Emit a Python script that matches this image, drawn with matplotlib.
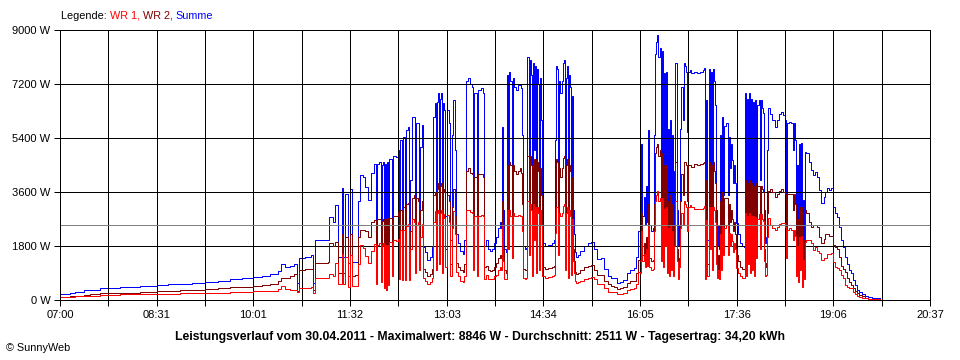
import matplotlib.pyplot as plt
import numpy as np

minuten = [0, 5, 9, 14, 23, 28, 38, 47, 56, 66, 75, 85, 91, 101, 113, 124, 136, 148, 160, 171,
           181, 190, 197, 205, 208, 211, 216, 220, 223, 224, 230, 236, 238, 239, 246, 252, 253, 256, 258, 261,
           265, 266, 268, 270, 272, 274, 277, 280, 282, 285, 286, 289, 292, 295, 297, 298, 300, 301, 302, 303,
           304, 305, 306, 307, 308, 309, 311, 312, 313, 316, 317, 318, 319, 321, 322, 324, 325, 327, 328, 329,
           331, 332, 333, 334, 336, 337, 338, 340, 341, 343, 345, 347, 349, 350, 352, 353, 354, 355, 356, 357,
           358, 359, 360, 361, 362, 363, 365, 366, 368, 369, 371, 372, 374, 376, 378, 379, 381, 383, 385, 387,
           388, 389, 391, 392, 393, 395, 397, 398, 400, 402, 404, 406, 408, 409, 411, 413, 414, 415, 416, 417,
           419, 420, 421, 422, 423, 424, 425, 426, 428, 430, 432, 433, 434, 435, 437, 438, 439, 440, 441, 442,
           443, 444, 445, 446, 447, 448, 449, 450, 451, 452, 453, 455, 458, 462, 464, 465, 466, 467, 468, 469,
           470, 471, 472, 473, 474, 475, 476, 477, 478, 479, 480, 481, 482, 483, 484, 485, 486, 488, 492, 496,
           499, 501, 504, 508, 511, 515, 517, 520, 523, 526, 529, 532, 535, 539, 541, 543, 545, 546, 547, 548,
           549, 550, 551, 552, 553, 555, 557, 558, 559, 560, 561, 562, 563, 564, 565, 566, 567, 568, 569, 570,
           571, 572, 573, 574, 575, 576, 577, 578, 579, 580, 581, 582, 583, 585, 586, 587, 588, 589, 590, 592,
           593, 595, 598, 601, 604, 605, 606, 607, 608, 609, 610, 611, 612, 613, 614, 615, 616, 617, 618, 619,
           620, 621, 622, 623, 624, 625, 627, 628, 629, 630, 631, 632, 633, 634, 635, 637, 639, 640, 642, 643,
           644, 645, 646, 647, 648, 649, 650, 651, 652, 653, 654, 655, 656, 657, 658, 659, 660, 661, 662, 663,
           664, 665, 667, 669, 671, 673, 675, 677, 679, 681, 682, 683, 685, 686, 688, 689, 690, 691, 692, 693,
           694, 695, 696, 697, 698, 699, 700, 701, 703, 705, 707, 709, 711, 713, 715, 717, 718, 720, 722, 724,
           726, 728, 730, 732, 733, 735, 737, 739, 741, 743, 745, 747, 748, 750, 753, 756, 759, 763, 766, 770]

summe = [190, 210, 230, 260, 320, 340, 390, 410, 425, 440, 455, 470, 490, 520, 550, 580, 610, 640, 690, 730,
         770, 810, 860, 980, 1200, 1110, 1150, 1200, 560, 1390, 1440, 1500, 560, 2000, 2000, 2000, 2780, 2600, 3170, 1450,
         3750, 1450, 3550, 1250, 3700, 1280, 1280, 3300, 4170, 4100, 3780, 3330, 4220, 4550, 1500, 4550, 4600, 1600, 4500, 4600,
         900, 4550, 700, 4600, 1200, 4700, 4700, 2000, 4800, 4780, 5000, 1700, 5330, 1780, 5440, 1780, 5670, 5780, 1780, 4000,
         6100, 6110, 2200, 5890, 5890, 2500, 5100, 5830, 1780, 1600, 1330, 1450, 1780, 6100, 6560, 2500, 6600, 6900, 3000, 6700,
         6900, 2200, 6560, 6330, 2800, 6330, 5890, 2000, 5500, 6670, 5000, 2200, 1900, 1650, 1550, 2000, 7300, 7390, 7200, 7100,
         2500, 6900, 6900, 2000, 7000, 7050, 6900, 1800, 2000, 1700, 1650, 1700, 1900, 2100, 2400, 2600, 2400, 5780, 3000, 1700,
         1600, 7500, 4000, 7600, 7300, 3200, 7400, 7100, 7000, 7150, 7200, 7050, 5500, 1800, 1700, 1750, 8100, 3500, 8000, 7500,
         2000, 7900, 5000, 7800, 2200, 7700, 7200, 2500, 7400, 6000, 1900, 1800, 1850, 1900, 2000, 5330, 7800, 7700, 3500, 7300,
         6900, 7300, 7900, 8000, 2500, 7400, 7800, 1800, 7500, 7100, 2000, 6800, 3000, 2200, 1600, 1440, 1500, 1650, 1800, 1900,
         1940, 1700, 1380, 1400, 1050, 800, 750, 720, 560, 600, 680, 900, 1000, 1060, 1440, 2300, 2200, 5200, 2800, 3450,
         2550, 3800, 2600, 5670, 2500, 2300, 2400, 5500, 8200, 8600, 8846, 8100, 8400, 3000, 8300, 2500, 7550, 4200, 7600, 2200,
         5700, 2000, 6000, 2300, 5500, 2000, 4300, 7900, 3000, 1800, 2500, 5700, 7100, 6000, 7900, 7800, 7600, 5600, 7600, 7670,
         7550, 7600, 7550, 7600, 7650, 7720, 1700, 6670, 2000, 7700, 4000, 7600, 2500, 7700, 7300, 6500, 3000, 1800, 2500, 1700,
         5500, 2500, 6100, 3500, 5800, 5900, 3500, 5440, 4400, 5200, 4670, 3900, 4500, 3900, 2560, 2200, 1900, 1800, 1780, 6900,
         2000, 6700, 3000, 6900, 2200, 6700, 2500, 6600, 2000, 6670, 3300, 6500, 6670, 4000, 6670, 6400, 6220, 3000, 1900, 2100,
         5000, 6400, 6200, 6000, 5780, 6000, 6200, 6280, 6170, 6000, 3500, 5900, 5950, 5900, 5000, 5900, 5330, 2000, 4500, 1500,
         5200, 2500, 5220, 1100, 3330, 1800, 4940, 4890, 4600, 4350, 4170, 4280, 4100, 3670, 3220, 3440, 3610, 3720, 3670, 3720,
         3110, 2890, 2780, 2440, 2000, 1780, 1440, 1200, 1000, 890, 670, 500, 350, 280, 200, 130, 90, 70, 60, 55]

wr2 = [100, 110, 120, 140, 180, 190, 220, 230, 240, 250, 260, 270, 290, 310, 330, 350, 370, 390, 420, 450,
       480, 510, 550, 620, 730, 740, 800, 870, 300, 1000, 1050, 1050, 330, 1250, 1250, 1280, 1900, 1800, 1950, 900,
       2200, 900, 2100, 800, 2200, 800, 820, 2100, 2350, 2350, 2300, 2100, 2600, 2680, 950, 2700, 2700, 1000, 2650, 2700,
       500, 2700, 350, 2750, 700, 2750, 2750, 1200, 2800, 2800, 2950, 1000, 3000, 1100, 3100, 1100, 3200, 3250, 1100, 2300,
       3400, 3500, 1300, 3400, 3300, 1500, 3000, 3300, 1050, 950, 800, 860, 1050, 3500, 3600, 1500, 3700, 3900, 1800, 3800,
       3900, 1300, 3700, 3600, 1700, 3500, 3300, 1200, 3100, 3700, 2800, 1250, 1100, 1000, 950, 1200, 4300, 4400, 4250, 4200,
       1500, 4100, 4100, 1200, 4200, 4200, 4100, 1100, 1150, 1000, 960, 1000, 1100, 1250, 1400, 1500, 1400, 3300, 1700, 1000,
       900, 4500, 2300, 4600, 4500, 1800, 4500, 4300, 4200, 4300, 4400, 4250, 3200, 1050, 1000, 1000, 4800, 2000, 4800, 4500,
       1200, 4700, 3000, 4700, 1300, 4600, 4300, 1500, 4400, 3500, 1100, 1050, 1080, 1100, 1150, 3100, 4700, 4600, 2000, 4400,
       4100, 4400, 4750, 4800, 1500, 4500, 4700, 1050, 4500, 4300, 1150, 4100, 1700, 1300, 950, 870, 900, 1000, 1100, 1150,
       1170, 1000, 850, 850, 650, 520, 470, 450, 360, 400, 450, 560, 620, 650, 900, 1350, 1300, 2900, 1500, 1900,
       1450, 2100, 1450, 3200, 1400, 1300, 1350, 3200, 4900, 5100, 5200, 4800, 5000, 1700, 4900, 1400, 4500, 2400, 4500, 1300,
       3300, 1200, 3500, 1300, 3200, 1200, 2500, 4600, 1700, 1100, 1400, 3300, 4200, 3500, 4600, 4600, 4500, 3300, 4500, 4500,
       4450, 4550, 4500, 4550, 4580, 4600, 1000, 4000, 1200, 4600, 2300, 4500, 1500, 4600, 4300, 3900, 1800, 1050, 1500, 1000,
       3300, 1500, 3600, 2000, 3400, 3400, 2000, 3200, 2600, 3000, 2700, 2300, 2600, 2200, 1500, 1300, 1100, 1050, 1050, 4000,
       1200, 3900, 1800, 4000, 1300, 3900, 1500, 3800, 1200, 3900, 1900, 3800, 3800, 2300, 3800, 3700, 3600, 1700, 1100, 1250,
       2900, 3650, 3700, 3600, 3450, 3550, 3650, 3700, 3600, 3550, 2100, 3550, 3550, 3550, 3000, 3550, 3200, 1200, 2700, 900,
       3100, 1500, 3100, 650, 2000, 1100, 3000, 2900, 2600, 2450, 2500, 2500, 2450, 2110, 1900, 2050, 2200, 2200, 2150, 2150,
       1850, 1780, 1700, 1450, 1150, 1050, 950, 750, 600, 500, 400, 300, 220, 170, 120, 70, 50, 35, 30, 25]

wr1 = [90, 100, 110, 120, 140, 150, 170, 180, 185, 190, 195, 200, 200, 210, 220, 230, 240, 250, 270, 280,
       290, 300, 310, 360, 470, 370, 350, 330, 260, 390, 390, 450, 230, 750, 750, 720, 880, 800, 1220, 550,
       1550, 550, 1450, 450, 1500, 480, 460, 1200, 1820, 1750, 1480, 1230, 1620, 1870, 550, 1850, 1900, 600, 1850, 1900,
       400, 1850, 350, 1850, 500, 1950, 1950, 800, 2000, 1980, 2050, 700, 2330, 680, 2340, 680, 2470, 2530, 680, 1700,
       2700, 2610, 900, 2490, 2590, 1000, 2100, 2530, 730, 650, 530, 590, 730, 2600, 2960, 1000, 2900, 3000, 1200, 2900,
       3000, 900, 2860, 2730, 1100, 2830, 2590, 800, 2400, 2970, 2200, 950, 800, 650, 600, 800, 3000, 2990, 2950, 2900,
       1000, 2800, 2800, 800, 2800, 2850, 2800, 700, 850, 700, 690, 700, 800, 850, 1000, 1100, 1000, 2480, 1300, 700,
       700, 3000, 1700, 3000, 2800, 1400, 2900, 2800, 2800, 2850, 2800, 2800, 2300, 750, 700, 750, 3300, 1500, 3200, 3000,
       800, 3200, 2000, 3100, 900, 3100, 2900, 1000, 3000, 2500, 800, 750, 770, 800, 850, 2230, 3100, 3100, 1500, 2900,
       2800, 2900, 3150, 3200, 1000, 2900, 3100, 750, 3000, 2800, 850, 2700, 1300, 900, 650, 570, 600, 650, 700, 750,
       770, 700, 530, 550, 400, 280, 280, 270, 200, 200, 230, 340, 380, 410, 540, 950, 900, 2300, 1300, 1550,
       1100, 1700, 1150, 2470, 1100, 1000, 1050, 2300, 3300, 3500, 3646, 3300, 3400, 1300, 3400, 1100, 3050, 1800, 3100, 900,
       2400, 800, 2500, 1000, 2300, 800, 1800, 3300, 1300, 700, 1100, 2400, 2900, 2500, 3300, 3200, 3100, 2300, 3100, 3170,
       3100, 3050, 3050, 3050, 3070, 3120, 700, 2670, 800, 3100, 1700, 3100, 1000, 3100, 3000, 2600, 1200, 750, 1000, 700,
       2200, 1000, 2500, 1500, 2400, 2500, 1500, 2240, 1800, 2200, 1970, 1600, 1900, 1700, 1060, 900, 800, 750, 730, 2900,
       800, 2800, 1200, 2900, 900, 2800, 1000, 2800, 800, 2770, 1400, 2700, 2870, 1700, 2870, 2700, 2620, 1300, 800, 850,
       2100, 2750, 2500, 2400, 2330, 2450, 2550, 2580, 2570, 2450, 1400, 2350, 2400, 2350, 2000, 2350, 2130, 800, 1800, 600,
       2100, 1000, 2120, 450, 1330, 700, 1940, 1990, 2000, 1900, 1670, 1780, 1650, 1560, 1320, 1390, 1410, 1520, 1520, 1570,
       1260, 1110, 1080, 990, 850, 730, 490, 450, 400, 390, 270, 200, 130, 110, 80, 60, 40, 35, 30, 30]

durchschnitt = 2511
x_labels = ['07:00', '08:31', '10:01', '11:32', '13:03', '14:34', '16:05', '17:36', '19:06', '20:37']
y_ticks = [0, 1800, 3600, 5400, 7200, 9000]

plt.rcParams['font.family'] = ['Liberation Sans', 'DejaVu Sans']

fig = plt.figure(figsize=(9.6, 3.6), dpi=100)
ax = fig.add_axes([60 / 960, 60 / 360, 870 / 960, 270 / 360])

lw = 0.72  # ein Pixel, Stufenlinien werden auf Pixel eingerastet
t = 420 + np.array(minuten)
ax.step(t, summe, where='post', color='#0000ff', lw=lw, zorder=2)
ax.step(t, wr2, where='post', color='#800000', lw=lw, zorder=3)
ax.step(t, wr1, where='post', color='#ff0000', lw=lw, zorder=4)
ax.axhline(durchschnitt, color='#808080', lw=lw, zorder=5)

# Zeitachse 07:00 bis 20:37, Raster in 18 gleichen Schritten
x_pos = np.linspace(420, 1237, 19)
ax.set_xlim(420, 1237)
ax.set_ylim(0, 9000)
ax.set_xticks(x_pos)
ax.set_xticklabels([x_labels[i // 2] if i % 2 == 0 else '' for i in range(19)])
ax.set_yticks(y_ticks)
ax.set_yticklabels([f'{v} W' for v in y_ticks])
ax.tick_params(axis='both', length=4, width=lw, color='black', labelsize=8, pad=3)
ax.grid(True, color='black', lw=lw, zorder=6)
ax.set_axisbelow(False)
for s in ax.spines.values():
    s.set_linewidth(lw)
    s.set_zorder(7)

# Legende oben links, mehrfarbig
renderer = fig.canvas.get_renderer()
x0 = 61 / 960
for txt, col in [('Legende: ', 'black'), ('WR 1, ', '#ff0000'), ('WR 2, ', '#800000'), ('Summe', '#0000ff')]:
    tt = fig.text(x0, 1 - 16 / 360, txt, color=col, fontsize=7.8, va='center', ha='left')
    bb = tt.get_window_extent(renderer)
    x0 += bb.width / 960

fig.text(0.5, 1 - 337 / 360,
         'Leistungsverlauf vom 30.04.2011 - Maximalwert: 8846 W - Durchschnitt: 2511 W - Tagesertrag: 34,20 kWh',
         ha='center', va='center', fontsize=8.8, fontweight='bold')
fig.text(6 / 960, 1 - 348 / 360, '© SunnyWeb', ha='left', va='center', fontsize=7.8)

plt.savefig('out.png', dpi=100)
